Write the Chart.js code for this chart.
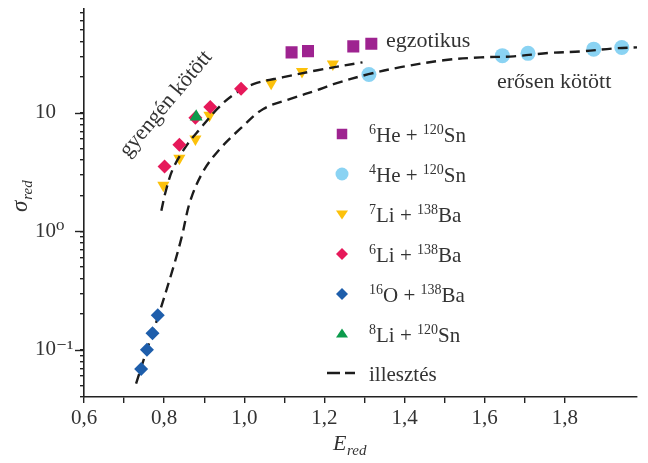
<!DOCTYPE html>
<html>
<head>
<meta charset="utf-8">
<script src="https://cdn.jsdelivr.net/npm/chart.js@4.4.1/dist/chart.umd.js"></script>
<style>html,body{margin:0;padding:0;background:#fff}</style>
</head>
<body>
<canvas id="c" width="648" height="463"></canvas>
<script>
// measured data (E_red, sigma_red)
const he6X = [1.118, 1.159, 1.272, 1.317];
const he6Y = [32.4, 33.2, 36.4, 38.3];
const he4X = [1.311, 1.644, 1.708, 1.872, 1.942];
const he4Y = [21.1, 30.4, 31.8, 34.5, 35.6];
const li7X = [0.798, 0.838, 0.878, 0.913, 1.067, 1.144, 1.221];
const li7Y = [2.45, 4.15, 6.03, 9.57, 17.8, 22.3, 25.9];
const li6X = [0.801, 0.838, 0.878, 0.915, 0.992];
const li6Y = [3.53, 5.37, 9.08, 11.2, 16.0];
const o16X = [0.7425, 0.757, 0.771, 0.784];
const o16Y = [0.069, 0.100, 0.138, 0.196];
const li8X = [0.880];
const li8Y = [9.26];

// fits (illesztés)
const fitWeakX = [0.793, 0.804, 0.8225, 0.8575, 0.89, 0.9325, 0.9725, 1.0225, 1.0975, 1.1825, 1.295];
const fitWeakY = [1.49, 2.18, 3.40, 5.40, 7.35, 10.8, 14.2, 17.5, 20.0, 22.9, 26.7];
const fitStrongX = [0.73, 0.757, 0.786, 0.823, 0.844, 0.865, 0.8975, 0.94, 0.99, 1.0475, 1.115, 1.19, 1.2225, 1.31, 1.39, 1.4975, 1.59, 1.6725, 1.7575, 1.84, 1.9225, 1.98];
const fitStrongY = [0.0519, 0.100, 0.196, 0.498, 0.90, 1.80, 3.21, 5.00, 7.35, 10.8, 13.1, 15.9, 17.5, 21.2, 24.3, 27.8, 29.4, 30.0, 32.0, 33.0, 35.0, 35.7];

const yTickLabels = {'0.1': '10⁻¹', '1': '10⁰', '10': '10'};
const yMajor = [0.1, 1, 10];

const SERIF = '"Liberation Serif", "DejaVu Serif", serif';
const TXT = '#333';
const AX = '#222';

function pts(xs, ys) { return xs.map((x, i) => ({x: x, y: ys[i]})); }

const yTickVals = [];
[0.01, 0.1, 1, 10].forEach(d => {
  for (let m = 1; m <= 9; m++) {
    const v = Number((m * d).toPrecision(3));
    if (v >= 0.04 && v <= 76) yTickVals.push(v);
  }
});

const fitStyle = {type: 'line', borderColor: '#1c1c1c', borderWidth: 2.4, borderDash: [10, 6],
  pointRadius: 0, fill: false, tension: 0.35};

const datasets = [
  Object.assign({label: 'illesztés', data: pts(fitWeakX, fitWeakY), legendRow: 6, mk: 'dash'}, fitStyle),
  Object.assign({label: '', data: pts(fitStrongX, fitStrongY)}, fitStyle),
  {type: 'scatter', label: '{6}He + {120}Sn', data: pts(he6X, he6Y), pointStyle: 'rect', pointRadius: 8.5,
   backgroundColor: '#9e2390', borderWidth: 0, legendRow: 0, mk: 'rect', mkSize: 7},
  {type: 'scatter', label: '{4}He + {120}Sn', data: pts(he4X, he4Y), pointStyle: 'circle', pointRadius: 7.5,
   backgroundColor: '#8ad3f3', borderWidth: 0, legendRow: 1, mk: 'circle', mkSize: 6.5},
  {type: 'scatter', label: '{7}Li + {138}Ba', data: pts(li7X, li7Y), pointStyle: 'triangle', pointRotation: 180, pointRadius: 7,
   backgroundColor: '#fcc10b', borderWidth: 0, legendRow: 2, mk: 'tdown', mkSize: 6},
  {type: 'scatter', label: '{6}Li + {138}Ba', data: pts(li6X, li6Y), pointStyle: 'rectRot', pointRadius: 7,
   backgroundColor: '#e6195a', borderWidth: 0, legendRow: 3, mk: 'diamond', mkSize: 6, order: -1},
  {type: 'scatter', label: '{16}O + {138}Ba', data: pts(o16X, o16Y), pointStyle: 'rectRot', pointRadius: 7,
   backgroundColor: '#1e5eab', borderWidth: 0, legendRow: 4, mk: 'diamond', mkSize: 6, order: -1},
  {type: 'scatter', label: '{8}Li + {120}Sn', data: pts(li8X, li8Y), pointStyle: 'triangle', pointRadius: 7.5,
   backgroundColor: '#0c9b4c', borderWidth: 0, legendRow: 5, mk: 'tup', mkSize: 6, order: -2}
];

function drawRich(ctx, str, x, y, size, supSize) {
  const parts = str.split(/(\{[^}]*\})/).filter(p => p.length);
  ctx.textAlign = 'left';
  ctx.textBaseline = 'alphabetic';
  parts.forEach(p => {
    if (p[0] === '{') {
      const t = p.slice(1, -1);
      ctx.font = supSize + 'px ' + SERIF;
      ctx.fillText(t, x, y - size * 0.4);
      x += ctx.measureText(t).width;
    } else {
      ctx.font = size + 'px ' + SERIF;
      ctx.fillText(p, x, y);
      x += ctx.measureText(p).width;
    }
  });
}

function drawMarker(ctx, kind, s, x, y, color) {
  ctx.fillStyle = color;
  ctx.strokeStyle = '#1c1c1c';
  ctx.beginPath();
  if (kind === 'rect') ctx.rect(x - s * 0.75, y - s * 0.75, s * 1.5, s * 1.5);
  else if (kind === 'circle') ctx.arc(x, y, s, 0, Math.PI * 2);
  else if (kind === 'tdown') { ctx.moveTo(x - s, y - s * 0.6); ctx.lineTo(x + s, y - s * 0.6); ctx.lineTo(x, y + s * 0.9); }
  else if (kind === 'tup') { ctx.moveTo(x - s, y + s * 0.6); ctx.lineTo(x + s, y + s * 0.6); ctx.lineTo(x, y - s * 0.9); }
  else if (kind === 'diamond') { ctx.moveTo(x, y - s); ctx.lineTo(x + s, y); ctx.lineTo(x, y + s); ctx.lineTo(x - s, y); }
  if (kind === 'dash') {
    ctx.lineWidth = 2.4;
    ctx.moveTo(x - 15, y); ctx.lineTo(x - 2, y);
    ctx.moveTo(x + 3, y); ctx.lineTo(x + 13, y);
    ctx.stroke();
    return;
  }
  ctx.closePath();
  ctx.fill();
}

const decor = {
  id: 'decor',
  afterDraw(chart) {
    const ctx = chart.ctx;
    const area = chart.chartArea;
    const ys = chart.scales.y;
    ctx.save();
    // longer major ticks on the log axis
    ctx.strokeStyle = AX;
    ctx.lineWidth = 1.4;
    yMajor.forEach(v => {
      const py = Math.round(ys.getPixelForValue(v)) + 0.5;
      ctx.beginPath();
      ctx.moveTo(area.left - 9, py);
      ctx.lineTo(area.left, py);
      ctx.stroke();
    });

    // legend
    const rowY = [134, 174, 214, 254, 294, 334, 373];
    chart.data.datasets.forEach(ds => {
      if (ds.legendRow === undefined) return;
      const y = rowY[ds.legendRow];
      drawMarker(ctx, ds.mk, ds.mkSize || 6, 342, y, ds.backgroundColor);
      ctx.fillStyle = TXT;
      drawRich(ctx, ds.label, 369, y + 8, 21, 14);
    });

    // annotations
    ctx.fillStyle = TXT;
    ctx.font = '22px ' + SERIF;
    ctx.textBaseline = 'alphabetic';
    ctx.textAlign = 'left';
    ctx.fillText('egzotikus', 386, 47);
    ctx.fillText('erősen kötött', 497, 88);

    ctx.save();
    ctx.translate(166, 104);
    ctx.rotate(-50 * Math.PI / 180);
    ctx.textAlign = 'center';
    ctx.textBaseline = 'middle';
    ctx.fillText('gyengén kötött', 0, 0);
    ctx.restore();

    // axis titles
    ctx.save();
    ctx.translate(27, 212);
    ctx.rotate(-Math.PI / 2);
    ctx.textAlign = 'left';
    ctx.textBaseline = 'alphabetic';
    ctx.font = 'italic 23px ' + SERIF;
    ctx.fillText('σ', 0, 0);
    const w = ctx.measureText('σ').width;
    ctx.font = 'italic 15px ' + SERIF;
    ctx.fillText('red', w + 1, 5);
    ctx.restore();

    ctx.textAlign = 'left';
    ctx.font = 'italic 22px ' + SERIF;
    ctx.fillText('E', 333, 450);
    ctx.font = 'italic 15px ' + SERIF;
    ctx.fillText('red', 347, 455);
    ctx.restore();
  }
};

new Chart(document.getElementById('c'), {
  data: {datasets: datasets},
  options: {
    responsive: false,
    animation: false,
    devicePixelRatio: 1,
    layout: {padding: {left: 35, right: 11, top: 6, bottom: 0}},
    plugins: {legend: {display: false}, tooltip: {enabled: false}},
    scales: {
      x: {
        type: 'linear', min: 0.6, max: 1.98,
        ticks: {
          stepSize: 0.1, autoSkip: false, maxRotation: 0, padding: 3,
          color: TXT, font: {family: SERIF, size: 21},
          callback: v => (Math.round(v * 10) % 2 === 0) ? v.toFixed(1).replace('.', ',') : ''
        },
        grid: {drawOnChartArea: false, tickLength: 6, color: AX, lineWidth: 1.4},
        border: {color: AX, width: 1.6},
        afterBuildTicks: s => { s.ticks = s.ticks.filter(t => Math.abs(t.value * 10 - Math.round(t.value * 10)) < 1e-6); },
        afterFit: s => { s.height = 66; s.paddingLeft = 0; s.paddingRight = 0; }
      },
      y: {
        type: 'logarithmic', min: 0.04, max: 76,
        afterBuildTicks: s => { s.ticks = yTickVals.map(v => ({value: v})); },
        ticks: {
          autoSkip: false, crossAlign: 'far', color: TXT, font: {family: SERIF, size: 21},
          callback: v => yTickLabels[String(v)] || ''
        },
        grid: {drawOnChartArea: false, tickLength: 4, color: AX, lineWidth: 1.4},
        border: {color: AX, width: 1.6},
        afterFit: s => { s.width = 49; s.paddingTop = 0; s.paddingBottom = 0; }
      }
    }
  },
  plugins: [decor]
});
</script>
</body>
</html>
